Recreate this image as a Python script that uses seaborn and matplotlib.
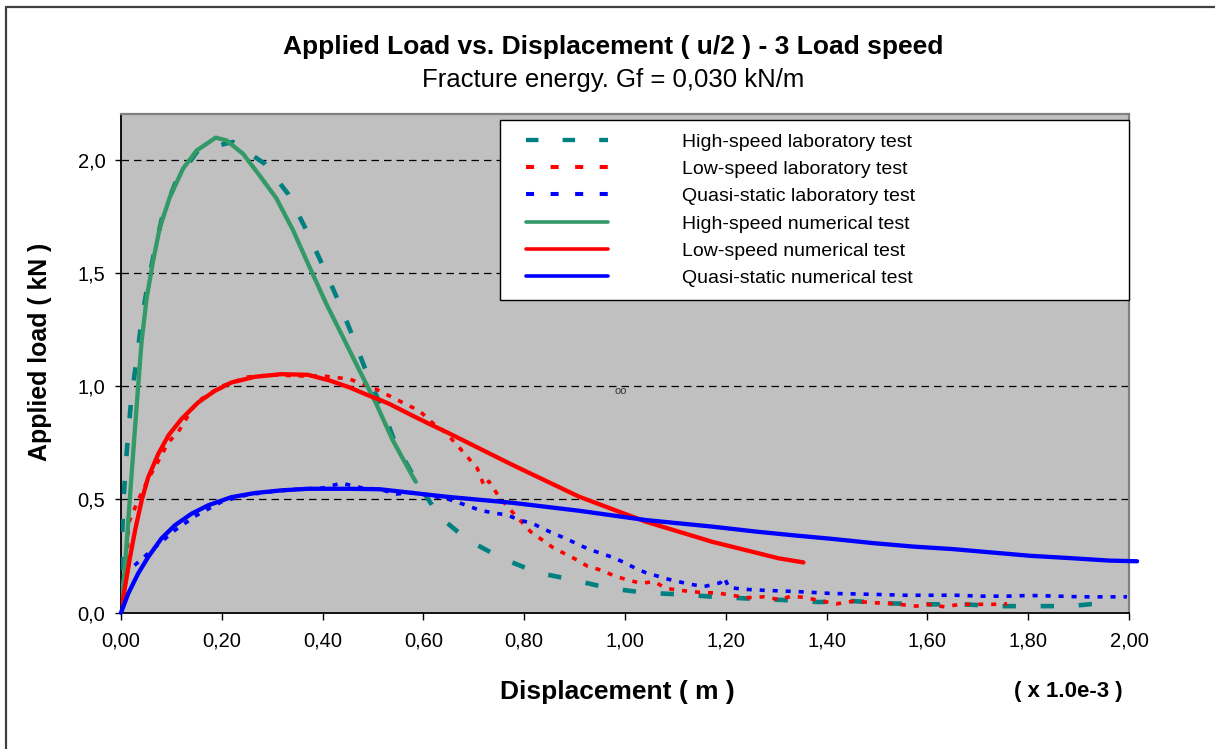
import matplotlib
matplotlib.use("Agg")
import matplotlib.pyplot as plt
from matplotlib.lines import Line2D
from matplotlib.legend_handler import HandlerLine2D
import seaborn as sns
import pandas as pd

# ---- measured load-displacement curves (displacement in 1e-3 m, load in kN) ----
high_lab_x = [0.000, 0.001, 0.002, 0.005, 0.009, 0.0145, 0.021, 0.031, 0.040, 0.052,
              0.066, 0.0825, 0.110, 0.153, 0.222, 0.285, 0.331, 0.368, 0.400, 0.432,
              0.460, 0.488, 0.518, 0.546, 0.585, 0.632, 0.688, 0.756, 0.826, 0.899,
              0.968, 1.041, 1.106, 1.171, 1.239, 1.313, 1.384, 1.454, 1.528, 1.599,
              1.669, 1.743, 1.813, 1.883, 1.953]
high_lab_y = [0.02, 0.18, 0.33, 0.488, 0.642, 0.796, 0.957, 1.118, 1.276, 1.438,
              1.593, 1.754, 1.909, 2.041, 2.078, 1.982, 1.85, 1.688, 1.534, 1.372,
              1.218, 1.056, 0.90, 0.74, 0.585, 0.424, 0.321, 0.240, 0.177, 0.144,
              0.108, 0.088, 0.081, 0.071, 0.063, 0.056, 0.047, 0.051, 0.041, 0.037,
              0.037, 0.029, 0.029, 0.029, 0.044]

low_lab_x = [0.000, 0.006, 0.013, 0.0145, 0.034, 0.054, 0.071, 0.094, 0.114, 0.15,
             0.20, 0.25, 0.30, 0.354, 0.40, 0.454, 0.506, 0.529, 0.562, 0.592,
             0.618, 0.638, 0.661, 0.684, 0.707, 0.721, 0.730, 0.750, 0.773, 0.813,
             0.834, 0.856, 0.879, 0.902, 0.925, 0.952, 0.983, 1.007, 1.031, 1.058,
             1.081, 1.104, 1.133, 1.158, 1.18, 1.213, 1.24, 1.275, 1.306, 1.33,
             1.354, 1.392, 1.419, 1.454, 1.493, 1.525, 1.578, 1.60, 1.634, 1.665,
             1.692, 1.731, 1.758]
low_lab_y = [0.00, 0.15, 0.283, 0.393, 0.496, 0.59, 0.657, 0.752, 0.80, 0.93,
             1.00, 1.04, 1.05, 1.045, 1.045, 1.031, 0.987, 0.961, 0.924, 0.891,
             0.838, 0.806, 0.755, 0.696, 0.637, 0.556, 0.58, 0.512, 0.453, 0.357,
             0.324, 0.289, 0.262, 0.236, 0.206, 0.188, 0.159, 0.144, 0.130, 0.137,
             0.108, 0.100, 0.093, 0.088, 0.088, 0.077, 0.066, 0.070, 0.058, 0.073,
             0.068, 0.051, 0.039, 0.051, 0.044, 0.041, 0.029, 0.037, 0.026, 0.037,
             0.037, 0.037, 0.039]

quasi_lab_x = [0.000, 0.003, 0.008, 0.031, 0.061, 0.107, 0.15, 0.20, 0.25, 0.30,
               0.35, 0.40, 0.437, 0.48, 0.513, 0.546, 0.579, 0.618, 0.651, 0.684,
               0.711, 0.737, 0.767, 0.79, 0.817, 0.836, 0.855, 0.886, 0.909, 0.929,
               0.952, 0.975, 0.998, 1.021, 1.041, 1.064, 1.087, 1.12, 1.156, 1.189,
               1.197, 1.206, 1.239, 1.275, 1.322, 1.361, 1.408, 1.454, 1.509, 1.556,
               1.61, 1.657, 1.704, 1.758, 1.805, 1.86, 1.906, 1.953, 1.996]
quasi_lab_y = [0.00, 0.12, 0.173, 0.217, 0.276, 0.364, 0.43, 0.49, 0.52, 0.535,
               0.545, 0.55, 0.572, 0.55, 0.545, 0.524, 0.53, 0.515, 0.50, 0.475,
               0.453, 0.441, 0.431, 0.409, 0.394, 0.372, 0.353, 0.324, 0.299, 0.28,
               0.262, 0.245, 0.222, 0.196, 0.177, 0.162, 0.147, 0.130, 0.115, 0.132,
               0.156, 0.111, 0.103, 0.099, 0.095, 0.091, 0.085, 0.083, 0.080, 0.077,
               0.077, 0.077, 0.073, 0.073, 0.076, 0.073, 0.070, 0.070, 0.070]

# ---- numerical model curves ----
high_num_x = [0.000, 0.004, 0.008, 0.0145, 0.021, 0.028, 0.034, 0.041, 0.051, 0.064,
              0.077, 0.097, 0.123, 0.150, 0.188, 0.209, 0.242, 0.275, 0.308, 0.341,
              0.374, 0.407, 0.440, 0.473, 0.506, 0.539, 0.579, 0.585]
high_num_y = [0.000, 0.12, 0.20, 0.41, 0.61, 0.82, 1.00, 1.20, 1.39, 1.556,
              1.70, 1.835, 1.96, 2.04, 2.097, 2.085, 2.026, 1.93, 1.83, 1.69,
              1.526, 1.365, 1.218, 1.07, 0.924, 0.762, 0.60, 0.578]

low_num_x = [0.000, 0.008, 0.018, 0.028, 0.041, 0.054, 0.074, 0.094, 0.120, 0.153,
             0.186, 0.219, 0.265, 0.318, 0.371, 0.414, 0.454, 0.493, 0.513, 0.533,
             0.572, 0.612, 0.648, 0.777, 0.909, 1.041, 1.173, 1.305, 1.354]
low_num_y = [0.000, 0.114, 0.246, 0.364, 0.496, 0.598, 0.701, 0.782, 0.855, 0.928,
             0.979, 1.016, 1.041, 1.053, 1.050, 1.025, 0.994, 0.957, 0.940, 0.921,
             0.877, 0.833, 0.795, 0.652, 0.512, 0.402, 0.313, 0.240, 0.222]

quasi_num_x = [0.000, 0.0145, 0.034, 0.054, 0.080, 0.107, 0.140, 0.173, 0.219, 0.265,
               0.318, 0.371, 0.45, 0.513, 0.645, 0.777, 0.909, 1.041, 1.173, 1.26,
               1.337, 1.415, 1.493, 1.571, 1.649, 1.727, 1.805, 1.883, 1.961, 2.016]
quasi_num_y = [0.000, 0.085, 0.173, 0.246, 0.327, 0.386, 0.437, 0.474, 0.510, 0.528,
               0.540, 0.547, 0.547, 0.545, 0.512, 0.485, 0.45, 0.409, 0.38, 0.358,
               0.341, 0.325, 0.307, 0.292, 0.281, 0.266, 0.251, 0.241, 0.230, 0.227]

labels = ["High-speed laboratory test", "Low-speed laboratory test",
          "Quasi-static laboratory test", "High-speed numerical test",
          "Low-speed numerical test", "Quasi-static numerical test"]
x_ticks = [0.0, 0.2, 0.4, 0.6, 0.8, 1.0, 1.2, 1.4, 1.6, 1.8, 2.0]
y_ticks = [0.0, 0.5, 1.0, 1.5, 2.0]

TEAL = "#008080"
GREEN = "#339966"
RED = "#FF0000"
BLUE = "#0000FF"

sns.set_theme(style="white")
plt.rcParams["font.family"] = ["Liberation Sans", "DejaVu Sans"]
plt.rcParams["text.color"] = "black"
plt.rcParams["axes.labelcolor"] = "black"

fig = plt.figure(figsize=(12.15, 7.49), dpi=100)
ax = fig.add_axes([121 / 1215, 1 - 612.7 / 749, (1129 - 121) / 1215, (612.7 - 114.3) / 749])
ax.set_facecolor("#C0C0C0")

series = [
    (high_lab_x, high_lab_y, dict(color=TEAL, lw=3.3, linestyle=(0, (2.9, 5.4)), dash_capstyle="butt")),
    (low_lab_x, low_lab_y, dict(color=RED, lw=2.6, linestyle=(0, (1.4, 2.2)), dash_capstyle="butt")),
    (quasi_lab_x, quasi_lab_y, dict(color=BLUE, lw=2.6, linestyle=(0, (1.4, 2.2)), dash_capstyle="butt")),
    (high_num_x, high_num_y, dict(color=GREEN, lw=3.1, solid_capstyle="round")),
    (low_num_x, low_num_y, dict(color=RED, lw=3.1, solid_capstyle="round")),
    (quasi_num_x, quasi_num_y, dict(color=BLUE, lw=3.1, solid_capstyle="round", clip_on=False)),
]
for i, (xs, ys, kw) in enumerate(series):
    df = pd.DataFrame({"x": xs, "y": ys})
    sns.lineplot(data=df, x="x", y="y", sort=False, estimator=None, ax=ax,
                 legend=False, zorder=3 + i, **kw)

ax.set_xlim(0, 2.0)
ax.set_ylim(0, 2.2)
ax.set_xticks(x_ticks)
ax.set_xticklabels([f"{v:.2f}".replace(".", ",") for v in x_ticks])
ax.set_yticks(y_ticks)
ax.set_yticklabels([f"{v:.1f}".replace(".", ",") for v in y_ticks])
ax.set_xlabel("")
ax.set_ylabel("")

# dashed horizontal gridlines (not at zero)
for v in y_ticks[1:]:
    ax.axhline(v, color="black", lw=0.9, linestyle=(0, (6, 4)), zorder=1)

ax.tick_params(axis="x", direction="out", length=4.8, width=1.0, color="black",
               labelsize=14.5, pad=9, bottom=True, labelcolor="black")
ax.tick_params(axis="y", direction="out", length=4.3, width=1.0, color="black",
               labelsize=14.5, pad=7, left=True, labelcolor="black")
for side in ("left", "bottom"):
    ax.spines[side].set_color("black")
    ax.spines[side].set_linewidth(1.3)
for side in ("top", "right"):
    ax.spines[side].set_color("#808080")
    ax.spines[side].set_linewidth(1.6)

ax.text(0.992, 0.98, "oo", fontsize=8, color="#333333", ha="center", va="center", zorder=2)

# legend
leg_handles = [
    Line2D([], [], color=TEAL, lw=3.1, linestyle=(0, (2.9, 5.6)), dash_capstyle="butt"),
    Line2D([], [], color=RED, lw=2.9, linestyle=(0, (2.0, 4.1)), dash_capstyle="butt"),
    Line2D([], [], color=BLUE, lw=2.9, linestyle=(0, (2.0, 4.1)), dash_capstyle="butt"),
    Line2D([], [], color=GREEN, lw=2.6, solid_capstyle="round"),
    Line2D([], [], color=RED, lw=2.6, solid_capstyle="round"),
    Line2D([], [], color=BLUE, lw=2.6, solid_capstyle="round"),
]
leg = ax.legend(leg_handles, labels, loc="upper left",
                bbox_to_anchor=(0.376, 0.9886, 0.624, 0.0), mode="expand",
                fontsize=14, frameon=True, fancybox=False, shadow=False,
                borderpad=0.68, labelspacing=0.495, handlelength=4.87,
                handletextpad=3.8, borderaxespad=0.0,
                handler_map={Line2D: HandlerLine2D(xpad=0.66)})
leg.get_frame().set_edgecolor("black")
leg.get_frame().set_facecolor("white")
leg.get_frame().set_linewidth(1.0)
leg.get_frame().set_alpha(1.0)
leg.set_zorder(10)
for t in leg.get_texts():
    t.set_color("black")

# titles and axis captions
fig.text(613 / 1215, 1 - 54 / 749, "Applied Load vs. Displacement ( u/2 ) - 3 Load speed",
         ha="center", va="baseline", fontsize=19, fontweight="bold", color="black")
fig.text(613 / 1215, 1 - 87 / 749, "Fracture energy. Gf = 0,030 kN/m",
         ha="center", va="baseline", fontsize=18.5, color="black")
fig.text(617 / 1215, 1 - 699.3 / 749, "Displacement ( m )",
         ha="center", va="baseline", fontsize=19, fontweight="bold", color="black")
fig.text(1068 / 1215, 1 - 697 / 749, "( x 1.0e-3 )",
         ha="center", va="baseline", fontsize=16, fontweight="bold", color="black")
fig.text(40 / 1215, 1 - 352 / 749, "Applied load ( kN )", rotation=90,
         ha="center", va="center", fontsize=17.9, fontweight="bold", color="black")

# outer chart-area border
fig.add_artist(Line2D([6 / 1215, 1.0], [1 - 7 / 749, 1 - 7 / 749],
                      transform=fig.transFigure, color="#404040", lw=1.6))
fig.add_artist(Line2D([6 / 1215, 6 / 1215], [0.0, 1 - 7 / 749],
                      transform=fig.transFigure, color="#404040", lw=1.6))

fig.savefig("out.png", dpi=100, facecolor="white")
